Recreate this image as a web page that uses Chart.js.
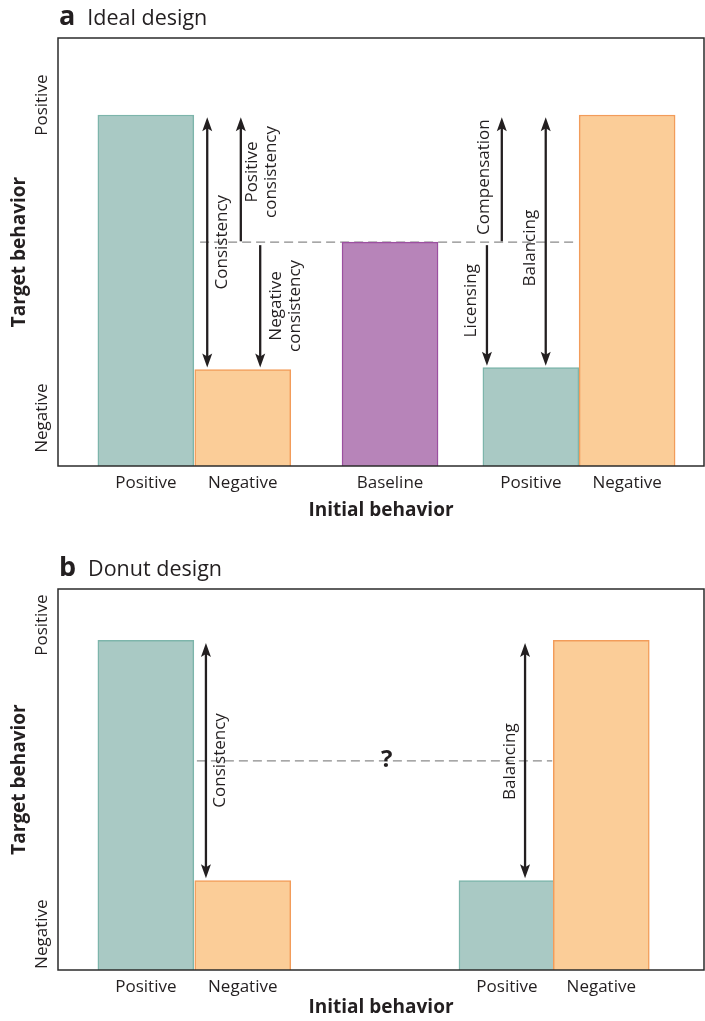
<!DOCTYPE html>
<html>
<head>
<meta charset="utf-8">
<script src="https://cdn.jsdelivr.net/npm/chart.js@4.4.0/dist/chart.umd.min.js"></script>
<style>
  html, body { margin: 0; padding: 0; background: #fff; }
  #wrap { width: 705px; height: 1021px; position: relative; }
  .box { position: absolute; left: 0; width: 705px; }
</style>
</head>
<body>
<div id="wrap">
  <div class="box" style="top:0;height:530px"><canvas id="chartA" width="705" height="530"></canvas></div>
  <div class="box" style="top:530px;height:491px"><canvas id="chartB" width="705" height="491"></canvas></div>
</div>
<script>
// ---- panel a: ideal design ----
const catsA = ['Positive', 'Negative', 'Baseline', 'Positive', 'Negative'];
const kindsA = ['pos', 'neg', 'base', 'pos', 'neg'];
const posA = [13.6, 28.6, 51.4, 73.2, 88.1];
const valsA = [82, 22.5, 52.3, 23, 82];
const baselineA = 52.3;

// ---- panel b: donut design ----
const catsB = ['Positive', 'Negative', 'Positive', 'Negative'];
const kindsB = ['pos', 'neg', 'pos', 'neg'];
const posB = [13.6, 28.6, 69.5, 84.1];
const valsB = [86.5, 23.5, 23.5, 86.5];
const baselineB = 54.9;

// y axis tick labels (shared)
const yTickLabels = ['Negative', 'Positive'];
const yTicksA = [11.2, 84.3];
const yTicksB = [9.4, 90.5];

// arrows: x, from, to (data units), heads, label
const arrowsA = [
  { x: 23.1, from: 23, to: 81.5, heads: 'both', lx: 25.4, ly: 52.3, text: ['Consistency'] },
  { x: 28.3, from: 52.5, to: 81.5, heads: 'end', lx: 31.6, ly: 68.7, text: ['Positive', 'consistency'] },
  { x: 31.3, from: 51.6, to: 23, heads: 'end', lx: 35.2, ly: 37.4, text: ['Negative', 'consistency'] },
  { x: 68.7, from: 52.5, to: 81.5, heads: 'end', lx: 65.9, ly: 67.5, text: ['Compensation'] },
  { x: 66.4, from: 51.6, to: 23.4, heads: 'end', lx: 63.9, ly: 38.6, text: ['Licensing'] },
  { x: 75.5, from: 23.4, to: 81.5, heads: 'both', lx: 73.1, ly: 50.9, text: ['Balancing'] }
];
const arrowsB = [
  { x: 22.9, from: 24.1, to: 85.8, heads: 'both', lx: 25.1, ly: 55, text: ['Consistency'] },
  { x: 72.3, from: 24.1, to: 85.8, heads: 'both', lx: 70, ly: 54.7, text: ['Balancing'] }
];

const FONT = '"Open Sans", sans-serif';
const INK = '#231f20';
const fills = { pos: 'rgb(169,201,196)', neg: 'rgb(251,205,152)', base: 'rgb(183,132,185)' };
const edges = { pos: 'rgb(125,181,171)', neg: 'rgb(242,156,90)', base: 'rgb(155,80,160)' };

function arrowHead(ctx, x, tipY, dir) {
  // dir -1 -> pointing up, +1 -> pointing down
  ctx.beginPath();
  ctx.moveTo(x, tipY);
  ctx.lineTo(x - 5, tipY - dir * 14);
  ctx.lineTo(x, tipY - dir * 11);
  ctx.lineTo(x + 5, tipY - dir * 14);
  ctx.closePath();
  ctx.fill();
}

const panelPlugin = {
  id: 'panel',
  beforeDatasetsDraw(chart, args, opts) {
    const { ctx, scales: { x, y } } = chart;
    const py = y.getPixelForValue(opts.baseline);
    ctx.save();
    ctx.strokeStyle = '#8a8a8a';
    ctx.lineWidth = 1.2;
    ctx.setLineDash([9, 5]);
    ctx.beginPath();
    ctx.moveTo(x.getPixelForValue(opts.dashFrom), py);
    ctx.lineTo(x.getPixelForValue(opts.dashTo), py);
    ctx.stroke();
    ctx.restore();
  },
  afterDatasetsDraw(chart, args, opts) {
    const { ctx, chartArea: a, scales: { x, y } } = chart;
    ctx.save();
    // frame
    ctx.strokeStyle = '#2b2b2b';
    ctx.lineWidth = 1.5;
    ctx.strokeRect(a.left, a.top, a.right - a.left, a.bottom - a.top);

    // arrows
    ctx.fillStyle = INK;
    ctx.strokeStyle = INK;
    ctx.lineWidth = 2.3;
    opts.arrows.forEach(ar => {
      const px = x.getPixelForValue(ar.x);
      const p1 = y.getPixelForValue(ar.from);
      const p2 = y.getPixelForValue(ar.to);
      const d = p2 > p1 ? 1 : -1;
      ctx.beginPath();
      ctx.moveTo(px, ar.heads === 'both' ? p1 + d * 10 : p1);
      ctx.lineTo(px, p2 - d * 10);
      ctx.stroke();
      arrowHead(ctx, px, p2, d);
      if (ar.heads === 'both') arrowHead(ctx, px, p1, -d);

      ctx.save();
      ctx.translate(x.getPixelForValue(ar.lx), y.getPixelForValue(ar.ly));
      ctx.rotate(-Math.PI / 2);
      ctx.font = '17px ' + FONT;
      ctx.textAlign = 'center';
      ctx.textBaseline = 'middle';
      const n = ar.text.length;
      ar.text.forEach((t, i) => ctx.fillText(t, 0, (i - (n - 1) / 2) * 19));
      ctx.restore();
    });

    // question mark
    if (opts.question) {
      ctx.font = 'bold 24px ' + FONT;
      ctx.textAlign = 'center';
      ctx.textBaseline = 'middle';
      ctx.fillText('?', x.getPixelForValue(opts.question.x), y.getPixelForValue(opts.question.y));
    }

    // panel heading
    ctx.textAlign = 'left';
    ctx.textBaseline = 'alphabetic';
    ctx.font = 'bold 27px ' + FONT;
    const hy = a.top - 13;
    ctx.fillText(opts.letter, a.left + 1, hy);
    const lw = ctx.measureText(opts.letter).width;
    ctx.font = '21.5px ' + FONT;
    ctx.fillText(opts.heading, a.left + 1 + lw + 12, hy);
    ctx.restore();
  }
};

function makeChart(id, cats, kinds, pos, vals, yTicks, xHeight, titlePad, opts) {
  return new Chart(document.getElementById(id), {
    type: 'bar',
    data: {
      datasets: [{
        data: pos.map((p, i) => ({ x: p, y: vals[i] })),
        backgroundColor: kinds.map(k => fills[k]),
        borderColor: kinds.map(k => edges[k]),
        borderWidth: 1.5,
        barThickness: 96
      }]
    },
    options: {
      responsive: false,
      animation: false,
      layout: { padding: { top: opts.top, right: 1, left: 0, bottom: 0 } },
      plugins: {
        legend: { display: false },
        tooltip: { enabled: false },
        panel: opts
      },
      scales: {
        x: {
          type: 'linear',
          min: 0,
          max: 100,
          offset: false,
          grid: { display: false, drawTicks: false },
          border: { display: false },
          afterBuildTicks: s => { s.ticks = pos.map(v => ({ value: v })); },
          afterFit: s => { s.height = xHeight; },
          ticks: {
            autoSkip: false,
            maxRotation: 0,
            padding: 7,
            color: INK,
            font: { family: FONT, size: 17 },
            callback: (v, i) => cats[i]
          },
          title: {
            display: true,
            text: 'Initial behavior',
            color: INK,
            font: { family: FONT, size: 19, weight: 'bold' },
            padding: { top: titlePad, bottom: titlePad }
          }
        },
        y: {
          min: 0,
          max: 100,
          grid: { display: false, drawTicks: false },
          border: { display: false },
          afterBuildTicks: s => { s.ticks = yTicks.map(v => ({ value: v })); },
          afterFit: s => { s.width = 58; },
          ticks: {
            minRotation: 90,
            maxRotation: 90,
            crossAlign: 'center',
            padding: -19,
            color: INK,
            font: { family: FONT, size: 17 },
            callback: (v, i) => yTickLabels[i]
          },
          title: {
            display: true,
            text: 'Target behavior',
            color: INK,
            font: { family: FONT, size: 19, weight: 'bold' },
            padding: { top: 8, bottom: 0 }
          }
        }
      }
    },
    plugins: [panelPlugin]
  });
}

makeChart('chartA', catsA, kindsA, posA, valsA, yTicksA, 64, 8, {
  top: 38, letter: 'a', heading: 'Ideal design', baseline: baselineA,
  dashFrom: 22, dashTo: 80.5, arrows: arrowsA, question: null
});
makeChart('chartB', catsB, kindsB, posB, valsB, yTicksB, 51, 2, {
  top: 59, letter: 'b', heading: 'Donut design', baseline: baselineB,
  dashFrom: 21.5, dashTo: 76.5, arrows: arrowsB, question: { x: 50.9, y: 55 }
});
</script>
</body>
</html>
